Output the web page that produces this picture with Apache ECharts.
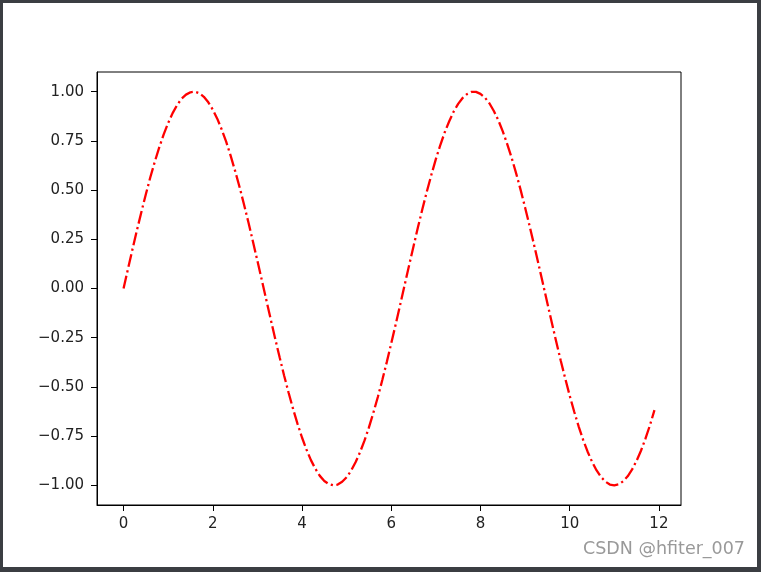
<!DOCTYPE html>
<html>
<head>
<meta charset="utf-8">
<script src="https://cdn.jsdelivr.net/npm/echarts@6/dist/echarts.min.js"></script>
<style>
  html, body { margin: 0; padding: 0; background: #fff; }
  #chart { width: 761px; height: 572px; }
</style>
</head>
<body>
<div id="chart"></div>
<script>
// x samples (0 .. 11.9, step 0.1) and the values
var xs = [
  0.0, 0.1, 0.2, 0.3, 0.4, 0.5, 0.6, 0.7, 0.8, 0.9,
  1.0, 1.1, 1.2, 1.3, 1.4, 1.5, 1.6, 1.7, 1.8, 1.9,
  2.0, 2.1, 2.2, 2.3, 2.4, 2.5, 2.6, 2.7, 2.8, 2.9,
  3.0, 3.1, 3.2, 3.3, 3.4, 3.5, 3.6, 3.7, 3.8, 3.9,
  4.0, 4.1, 4.2, 4.3, 4.4, 4.5, 4.6, 4.7, 4.8, 4.9,
  5.0, 5.1, 5.2, 5.3, 5.4, 5.5, 5.6, 5.7, 5.8, 5.9,
  6.0, 6.1, 6.2, 6.3, 6.4, 6.5, 6.6, 6.7, 6.8, 6.9,
  7.0, 7.1, 7.2, 7.3, 7.4, 7.5, 7.6, 7.7, 7.8, 7.9,
  8.0, 8.1, 8.2, 8.3, 8.4, 8.5, 8.6, 8.7, 8.8, 8.9,
  9.0, 9.1, 9.2, 9.3, 9.4, 9.5, 9.6, 9.7, 9.8, 9.9,
  10.0, 10.1, 10.2, 10.3, 10.4, 10.5, 10.6, 10.7, 10.8, 10.9,
  11.0, 11.1, 11.2, 11.3, 11.4, 11.5, 11.6, 11.7, 11.8, 11.9
];
var ys = [
  0.000, 0.100, 0.199, 0.296, 0.389, 0.479, 0.565, 0.644, 0.717, 0.783,
  0.841, 0.891, 0.932, 0.964, 0.985, 0.997, 1.000, 0.992, 0.974, 0.946,
  0.909, 0.863, 0.808, 0.746, 0.675, 0.598, 0.516, 0.427, 0.335, 0.239,
  0.141, 0.042, -0.058, -0.158, -0.256, -0.351, -0.443, -0.530, -0.612, -0.688,
  -0.757, -0.818, -0.872, -0.916, -0.952, -0.978, -0.994, -1.000, -0.996, -0.982,
  -0.959, -0.926, -0.883, -0.832, -0.773, -0.706, -0.631, -0.551, -0.465, -0.374,
  -0.279, -0.182, -0.083, 0.017, 0.117, 0.215, 0.312, 0.405, 0.494, 0.578,
  0.657, 0.729, 0.794, 0.850, 0.899, 0.938, 0.968, 0.988, 0.999, 0.999,
  0.989, 0.970, 0.941, 0.902, 0.855, 0.798, 0.734, 0.663, 0.585, 0.501,
  0.412, 0.319, 0.223, 0.125, 0.025, -0.075, -0.174, -0.272, -0.367, -0.457,
  -0.544, -0.625, -0.700, -0.768, -0.828, -0.880, -0.923, -0.957, -0.981, -0.996,
  -1.000, -0.995, -0.979, -0.954, -0.919, -0.875, -0.823, -0.762, -0.694, -0.618
];
var xTicks = [0, 2, 4, 6, 8, 10, 12];
var yTicks = [-1.00, -0.75, -0.50, -0.25, 0.00, 0.25, 0.50, 0.75, 1.00];

var points = xs.map(function (x, i) { return [x, ys[i]]; });

var chart = echarts.init(document.getElementById('chart'));
var frame = '#3b3e42';
var labelFont = { color: '#222', fontFamily: 'DejaVu Sans', fontSize: 15 };

chart.setOption({
    backgroundColor: '#fff',
    animation: false,
    grid: {
        left: 97, right: 80, top: 72, bottom: 67,
        show: true, borderColor: '#000', borderWidth: 1, backgroundColor: 'transparent'
    },
    xAxis: {
        type: 'value',
        min: -0.595,
        max: 12.495,
        axisLine: { show: true, onZero: false, lineStyle: { color: '#000', width: 1 } },
        axisTick: { show: true, customValues: xTicks, length: 6, lineStyle: { color: '#000', width: 1 } },
        axisLabel: Object.assign({
            customValues: xTicks,
            margin: 12,
            formatter: function (v) { return String(v); }
        }, labelFont),
        splitLine: { show: false }
    },
    yAxis: {
        type: 'value',
        min: -1.1,
        max: 1.1,
        axisLine: { show: true, onZero: false, lineStyle: { color: '#000', width: 1 } },
        axisTick: { show: true, customValues: yTicks, length: 6, lineStyle: { color: '#000', width: 1 } },
        axisLabel: Object.assign({
            customValues: yTicks,
            margin: 13,
            formatter: function (v) { return v.toFixed(2).replace('-', '\u2212'); }
        }, labelFont),
        splitLine: { show: false }
    },
    series: [{
        type: 'line',
        data: points,
        showSymbol: false,
        smooth: false,
        lineStyle: { color: '#ff0000', width: 2.3, type: [13, 3.5, 2.2, 3.5] },
        itemStyle: { color: '#ff0000' }
    }],
    graphic: [
        { type: 'rect', shape: { x: 0, y: 0, width: 761, height: 3 }, style: { fill: frame }, silent: true },
        { type: 'rect', shape: { x: 0, y: 0, width: 3, height: 572 }, style: { fill: frame }, silent: true },
        { type: 'rect', shape: { x: 757, y: 0, width: 4, height: 572 }, style: { fill: frame }, silent: true },
        { type: 'rect', shape: { x: 0, y: 567, width: 761, height: 5 }, style: { fill: frame }, silent: true },
        {
            type: 'text', right: 16, top: 540, silent: true,
            style: { text: 'CSDN @hfiter_007', fill: '#999', font: '17.5px "DejaVu Sans"' }
        }
    ]
});
</script>
</body>
</html>
